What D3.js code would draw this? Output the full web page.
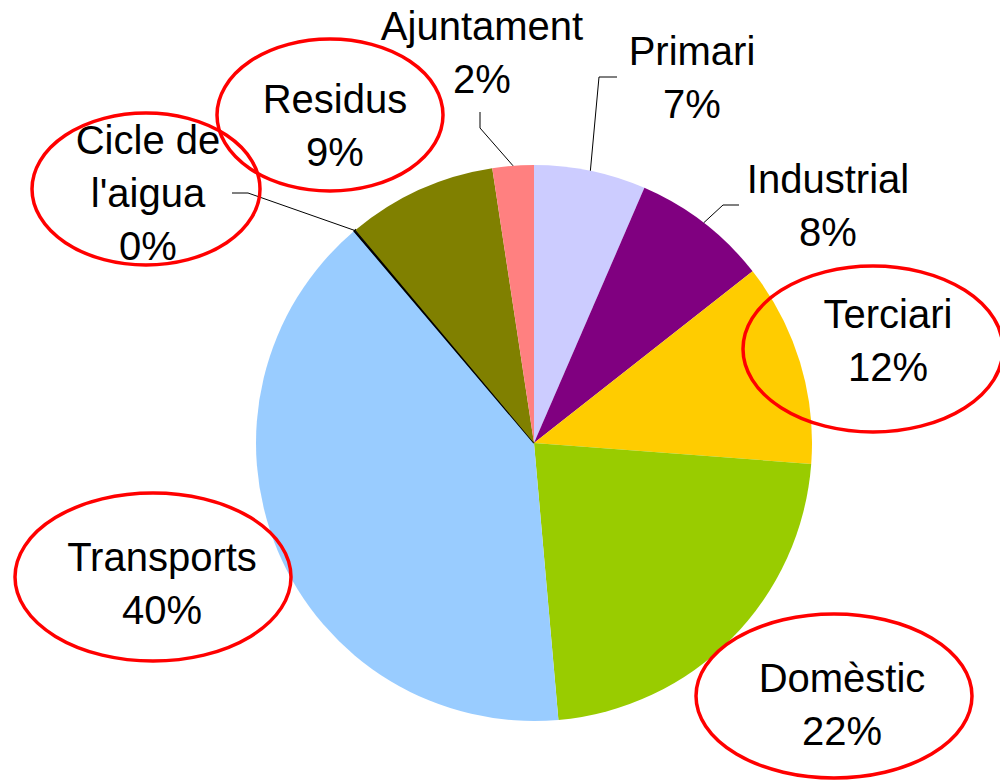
<!DOCTYPE html>
<html>
<head>
<meta charset="utf-8">
<script src="https://cdn.jsdelivr.net/npm/d3@7"></script>
<style>
    html, body { margin: 0; padding: 0; background: #fff; }
    text { font-family: "Liberation Sans", Arial, sans-serif; }
</style>
</head>
<body>
<div id="pie"></div>
<script>
    // data, in clockwise order starting at 12 o'clock
    var categories = ['Primari', 'Industrial', 'Terciari', 'Domèstic', 'Transports', "Cicle de l'aigua", 'Residus', 'Ajuntament'];
    var values = [6.5, 7.9, 11.8, 22.4, 40.2, 0.1, 8.7, 2.4];
    var colors = ['#CCCCFF', '#800080', '#FFCC00', '#99CC00', '#99CCFF', '#333399', '#808000', '#FF8080'];
    // lines of each label (the percentage line is appended from the value)
    var labelLines = [['Primari'], ['Industrial'], ['Terciari'], ['Domèstic'], ['Transports'], ['Cicle de', "l'aigua"], ['Residus'], ['Ajuntament']];
    // which labels get the red ring drawn around them
    var circled = ['Terciari', 'Domèstic', 'Transports', "Cicle de l'aigua", 'Residus'];

    var width = 1000;
    var height = 780;
    var cx = 534;
    var cy = 443;
    var radius = 278;
    var lineHeight = 53;

    // label placement: text anchor, leader bend and ring size
    var layout = {
        'Primari':          {x: 692, y: 65,  bend: [599, 77],  end: [617, 77]},
        'Industrial':       {x: 828, y: 193, bend: [723, 205], end: [739, 205]},
        'Terciari':         {x: 888, y: 328, ring: [873, 349, 130, 83]},
        'Domèstic':         {x: 842, y: 692, ring: [834, 696, 138, 82]},
        'Transports':       {x: 162, y: 571, ring: [153, 577, 138, 84]},
        "Cicle de l'aigua": {x: 148, y: 154, bend: [248, 193], end: [232, 193], ring: [146, 189, 114, 76]},
        'Residus':          {x: 335, y: 113, ring: [330, 115, 113, 76]},
        'Ajuntament':       {x: 482, y: 40,  bend: [480, 128], end: [480, 112]}
    };

    var data = categories.map(function (name, i) {
        return {name: name, value: values[i], color: colors[i], lines: labelLines[i]};
    });

    var svg = d3.select('#pie')
        .append('svg')
        .attr('width', width)
        .attr('height', height);

    var g = svg.append('g')
        .attr('transform', 'translate(' + cx + ',' + cy + ')');

    var pie = d3.pie()
        .value(function (d) { return d.value; })
        .sort(null);

    var arc = d3.arc()
        .innerRadius(0)
        .outerRadius(radius);

    var arcs = pie(data);

    // slices; the near-zero one only shows as its dark border
    g.selectAll('path')
        .data(arcs)
        .enter()
        .append('path')
        .attr('d', arc)
        .attr('fill', function (d) { return d.data.color; })
        .attr('stroke', function (d) { return d.data.value < 1 ? '#000' : 'none'; })
        .attr('stroke-width', 1.5);

    // leader lines from the rim to the label
    arcs.forEach(function (d) {
        var pos = layout[d.data.name];
        if (!pos.bend) return;
        var mid = (d.startAngle + d.endAngle) / 2;
        var x0 = cx + radius * Math.sin(mid);
        var y0 = cy - radius * Math.cos(mid);
        svg.append('polyline')
            .attr('points', [[x0, y0], pos.bend, pos.end].map(function (p) { return p.join(','); }).join(' '))
            .attr('fill', 'none')
            .attr('stroke', '#000')
            .attr('stroke-width', 1);
    });

    // labels: name lines then the rounded percentage
    arcs.forEach(function (d) {
        var pos = layout[d.data.name];
        var lines = d.data.lines.concat([Math.round(d.data.value) + '%']);
        var text = svg.append('text')
            .attr('text-anchor', 'middle')
            .attr('font-size', 40)
            .attr('fill', '#000');
        lines.forEach(function (line, i) {
            text.append('tspan')
                .attr('x', pos.x)
                .attr('y', pos.y + i * lineHeight)
                .text(line);
        });
    });

    // red rings drawn on top
    svg.selectAll('.ring')
        .data(data.filter(function (d) { return circled.indexOf(d.name) >= 0; }))
        .enter()
        .append('ellipse')
        .attr('class', 'ring')
        .attr('cx', function (d) { return layout[d.name].ring[0]; })
        .attr('cy', function (d) { return layout[d.name].ring[1]; })
        .attr('rx', function (d) { return layout[d.name].ring[2]; })
        .attr('ry', function (d) { return layout[d.name].ring[3]; })
        .attr('fill', 'none')
        .attr('stroke', '#FF0000')
        .attr('stroke-width', 3.5);
</script>
</body>
</html>
